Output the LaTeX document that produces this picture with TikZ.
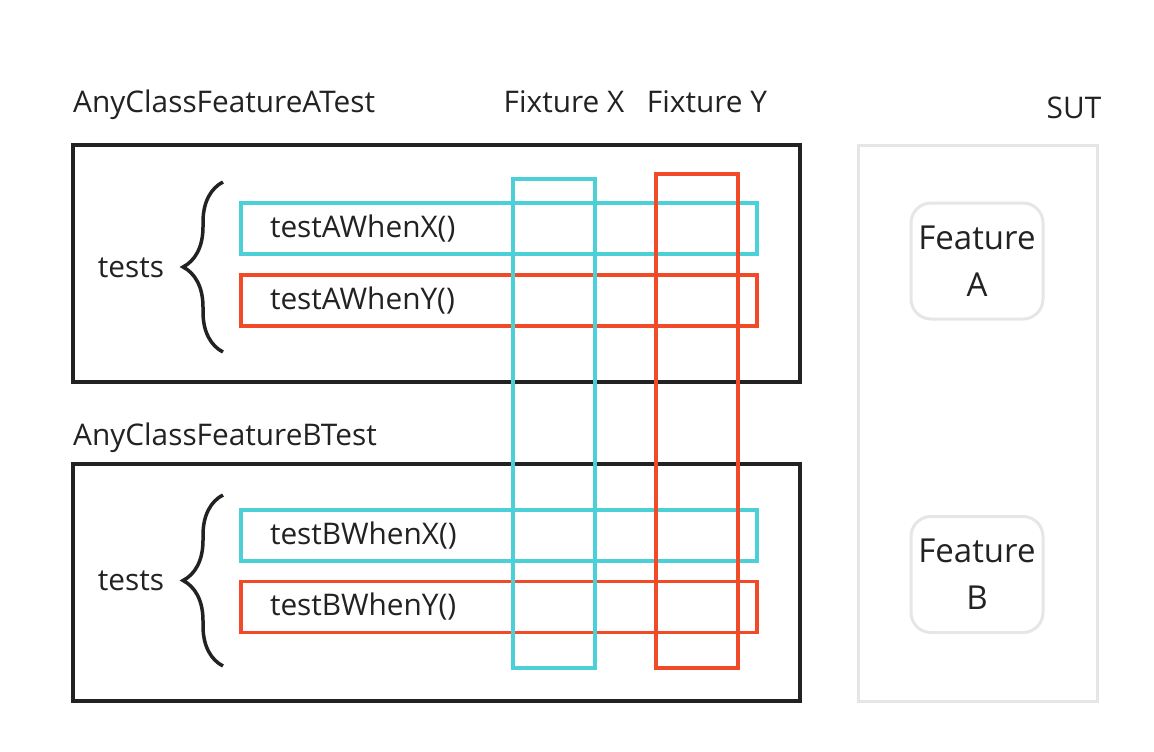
\documentclass[tikz,border=0pt]{standalone}
\usepackage{fontspec}
\setmainfont{Open Sans}
\usetikzlibrary{decorations.pathreplacing,positioning}

\definecolor{fixx}{RGB}{74,208,214}
\definecolor{fixy}{RGB}{240,74,40}
\definecolor{sutgray}{RGB}{230,230,230}
\definecolor{ink}{RGB}{34,34,34}

\tikzset{
  classbox/.style={draw=ink, line width=3.5pt, minimum width=727pt, minimum height=237pt, inner sep=0pt},
  testbox/.style={line width=3.5pt, minimum width=516pt, minimum height=51pt, text width=458pt, inner xsep=29pt, inner ysep=0pt, align=left},
  fixbox/.style={line width=3.5pt, minimum width=82pt, inner sep=0pt},
  featbox/.style={draw=sutgray, line width=3pt, rounded corners=20pt, minimum width=132pt, minimum height=116pt, align=center, inner sep=0pt, font=\fontsize{33}{47}\selectfont},
  lbl/.style={inner sep=0pt},
  tbrace/.style={draw=ink, line width=3.5pt, decorate, decoration={brace, amplitude=40pt}}
}

\begin{document}
\begin{tikzpicture}[x=1pt,y=-1pt,font=\fontsize{29.8}{36}\selectfont,text=ink]
\useasboundingbox (0,0) rectangle (1154,752);

% test classes and SUT
\node[classbox] (clsA) at (436.5,263.5) {};
\node[classbox] (clsB) at (436.5,582.5) {};
\node[lbl, anchor=base west] (clsAlbl) at (73,112) {AnyClassFeatureATest};
\node[lbl, anchor=base west] (clsBlbl) at (73,445) {AnyClassFeatureBTest};

\node[draw=sutgray, line width=3pt, minimum width=239pt, minimum height=556pt] (sut) at (977.5,423) {};
\node[lbl, anchor=base] (sutlbl) at (1074,118) {SUT};
\node[featbox] (featA) at (977,261) {Feature\\A};
\node[featbox] (featB) at (977,574.5) {Feature\\B};

% braces
\coordinate (braceAtop) at (223,182);
\coordinate (braceAbot) at (223,352);
\coordinate (braceBtop) at (223,495);
\coordinate (braceBbot) at (223,666);
\draw[tbrace] (braceAbot) -- (braceAtop);
\draw[tbrace] (braceBbot) -- (braceBtop);
\node[lbl] (testsA) at (131,268) {tests};
\node[lbl] (testsB) at (131,581) {tests};

% test methods
\foreach \nm/\txt/\y/\col in {
  tAX/testAWhenX()/228.5/fixx,
  tAY/{\raisebox{5pt}{testAWhenY()}}/300.5/fixy,
  tBX/testBWhenX()/535.5/fixx,
  tBY/testBWhenY()/607/fixy} {
  \node[testbox, draw=\col] (\nm) at (499,\y) {\txt};
}

% fixtures
\node[fixbox, draw=fixx, minimum height=489pt] (fixX) at (554,423.5) {};
\node[fixbox, draw=fixy, minimum height=494pt] (fixY) at (697,421) {};
\node[lbl, anchor=base] (fixXlbl) at (564,112) {Fixture X};
\node[lbl, anchor=base] (fixYlbl) at (707,112) {Fixture Y};
\end{tikzpicture}
\end{document}
